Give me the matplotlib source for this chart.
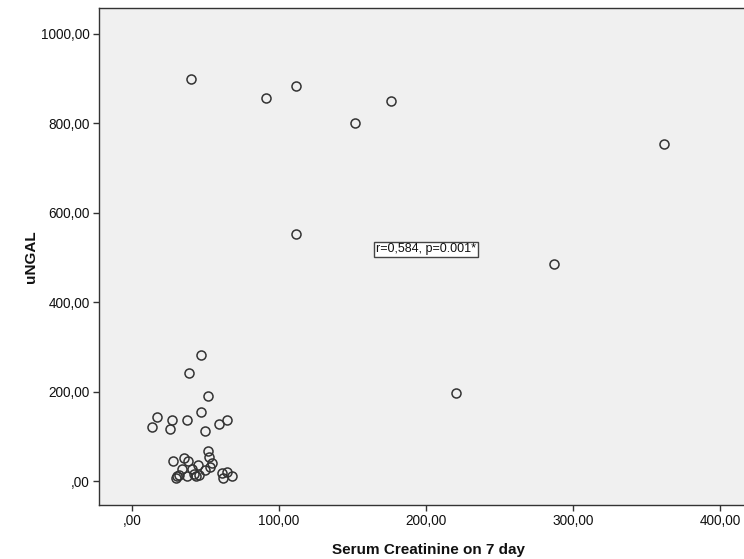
import matplotlib
matplotlib.use("Agg")
import matplotlib.pyplot as plt

plt.rcParams['font.family'] = ['Liberation Sans', 'DejaVu Sans']

# Data: serum creatinine on day 7 (x) vs uNGAL (y)
creatinine = [40.1, 91.4, 111.8, 151.9, 176.0, 111.8, 361.7, 286.9, 220.6,
              46.9, 38.8, 51.7, 17.2, 13.8, 27.2, 25.9, 37.4, 46.9, 49.9, 59.0, 64.8,
              51.7, 52.2, 27.9, 35.2, 37.9, 54.2, 44.7, 33.8, 40.6, 53.1, 49.7,
              30.8, 31.7, 37.6, 42.2, 43.3, 45.6, 61.2, 64.8, 68.0, 61.7, 30.1]
ungal = [899, 857, 883, 800, 850, 552, 753, 485, 198,
         282, 242, 190, 144, 122, 136, 118, 138, 154, 112, 128, 136,
         67, 55, 45, 53, 45, 40, 36, 27, 27, 33, 25,
         12, 14, 13, 16, 12, 15, 18, 21, 12, 7, 8]

x_ticks = [0, 100, 200, 300, 400]
x_tick_labels = [",00", "100,00", "200,00", "300,00", "400,00"]
y_ticks = [0, 200, 400, 600, 800, 1000]
y_tick_labels = [",00", "200,00", "400,00", "600,00", "800,00", "1000,00"]
annotation = "r=0,584, p=0.001*"

fig = plt.figure(figsize=(7.44, 5.59), dpi=100)
fig.patch.set_facecolor('white')
ax = fig.add_axes([99/744, 54/559, 658/744, 497/559])
ax.set_facecolor('#f0f0f0')

ax.plot(creatinine, ungal, linestyle='none', marker='o', markersize=6.5,
        markerfacecolor='none', markeredgecolor='#333333', markeredgewidth=1.1)

ax.set_xlim(-22.45, 425.2)
ax.set_ylim(-52.9, 1057.4)
ax.set_xticks(x_ticks)
ax.set_xticklabels(x_tick_labels)
ax.set_yticks(y_ticks)
ax.set_yticklabels(y_tick_labels)
ax.tick_params(axis='both', direction='out', length=4.5, width=1.0,
               color='#333333', labelsize=9.8, labelcolor='#111111', pad=2)

for side in ['left', 'bottom', 'top']:
    ax.spines[side].set_color('#333333')
    ax.spines[side].set_linewidth(1.0)
ax.spines['right'].set_visible(False)

ax.set_xlabel("Serum Creatinine on 7 day", fontsize=11, fontweight='bold',
              color='#111111', labelpad=11)
ax.set_ylabel("uNGAL", fontsize=11, fontweight='bold', color='#111111',
              labelpad=2.5)

ax.text(199.8, 518, annotation, ha='center', va='center', fontsize=9,
        color='#111111',
        bbox=dict(boxstyle='square,pad=0.15', facecolor='white',
                  edgecolor='#444444', linewidth=1.0))

fig.savefig("out.png", dpi=100)
